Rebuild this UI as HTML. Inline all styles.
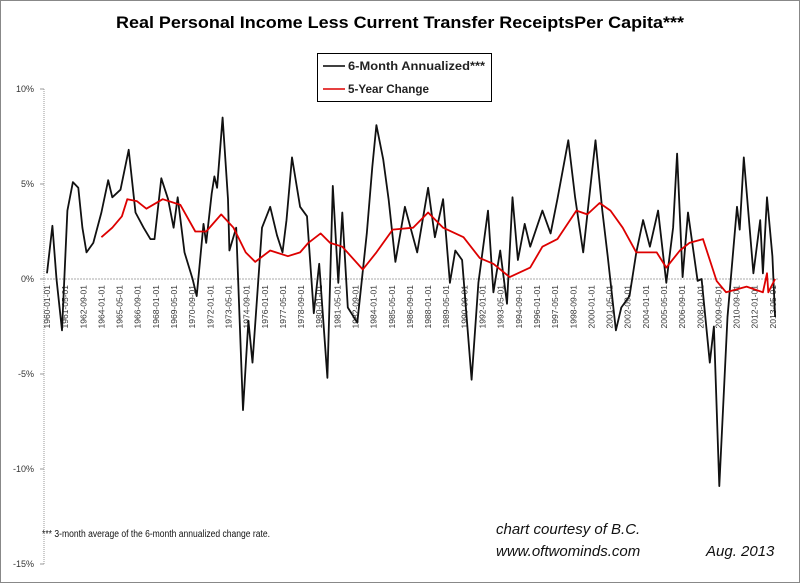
<!DOCTYPE html>
<html><head><meta charset="utf-8"><style>
html,body{margin:0;padding:0;background:#fff}
svg{display:block;font-family:"Liberation Sans",sans-serif}
</style></head><body>
<svg id="chart" width="800" height="583" viewBox="0 0 800 583">
<rect x="0.5" y="0.5" width="799" height="582" fill="#fff" stroke="#888"/>
<text x="400" y="28" text-anchor="middle" font-size="17" font-weight="bold" textLength="568" lengthAdjust="spacingAndGlyphs">Real Personal Income Less Current Transfer ReceiptsPer Capita***</text>
<g>
<rect x="317.5" y="53.5" width="174" height="48" fill="#fff" stroke="#000"/>
<g><line x1="323" y1="66" x2="345" y2="66" stroke="#000" stroke-width="1.5"/><text x="348" y="70" font-size="11.5" font-weight="bold" fill="#222" textLength="137" lengthAdjust="spacingAndGlyphs">6-Month Annualized***</text></g>
<g><line x1="323" y1="89" x2="345" y2="89" stroke="#d00" stroke-width="1.5"/><text x="348" y="93" font-size="11.5" font-weight="bold" fill="#222" textLength="81" lengthAdjust="spacingAndGlyphs">5-Year Change</text></g>
</g>
<g id="axes"></g>
<g id="series"></g>
<text x="42" y="537" font-size="10" fill="#111" textLength="228" lengthAdjust="spacingAndGlyphs">*** 3-month average of the 6-month annualized change rate.</text>
<text x="496" y="534" font-size="15" font-style="italic" fill="#111">chart courtesy of B.C.</text>
<text x="496" y="556" font-size="15" font-style="italic" fill="#111">www.oftwominds.com</text>
<text x="706" y="556" font-size="15" font-style="italic" fill="#111">Aug. 2013</text>
</svg>
<script>
const yTicks = [10, 5, 0, -5, -10, -15];
const xLabelStart = 1960; // labels every 16 months from 1960-01
const xLabelCount = 41;
const blackYears = [1960.0,1960.4,1960.7,1961.1,1961.5,1961.9,1962.3,1962.6,1962.9,1963.4,1964.0,1964.5,1964.8,1965.4,1966.0,1966.5,1967.1,1967.6,1967.9,1968.4,1968.9,1969.3,1969.6,1970.1,1970.7,1971.0,1971.5,1971.7,1972.1,1972.3,1972.5,1972.9,1973.3,1973.4,1973.9,1974.4,1974.8,1975.1,1975.8,1976.4,1976.9,1977.3,1977.6,1978.0,1978.6,1979.1,1979.6,1980.0,1980.6,1981.0,1981.4,1981.7,1982.1,1982.8,1983.5,1983.9,1984.2,1984.7,1985.1,1985.6,1986.3,1987.2,1988.0,1988.5,1989.1,1989.6,1990.0,1990.5,1991.2,1991.7,1992.4,1992.8,1993.3,1993.8,1994.2,1994.6,1995.1,1995.5,1996.4,1997.0,1997.5,1998.3,1998.8,1999.4,2000.3,2000.8,2001.2,2001.8,2002.2,2002.8,2003.3,2003.8,2004.3,2004.9,2005.5,2006.0,2006.3,2006.7,2007.1,2007.8,2008.1,2008.7,2009.0,2009.4,2010.0,2010.7,2010.9,2011.2,2011.9,2012.4,2012.6,2012.9,2013.3,2013.5];
const blackValues = [0.3,2.8,0,-2.7,3.6,5.1,4.8,2.7,1.4,1.9,3.5,5.2,4.3,4.7,6.8,3.5,2.7,2.1,2.1,5.3,4.2,2.7,4.3,1.4,0,-0.9,2.9,1.9,4.5,5.4,4.8,8.5,4.2,1.5,2.7,-6.9,-2.2,-4.4,2.7,3.8,2.3,1.4,3.1,6.4,3.8,3.3,-1.8,0.8,-5.2,4.9,-0.2,3.5,-1.5,-2.3,2.4,5.9,8.1,6.3,4.2,0.9,3.8,1.4,4.8,2.2,4.2,-0.2,1.5,1.0,-5.3,-0.2,3.6,-0.7,1.5,-1.3,4.3,1.0,2.9,1.7,3.6,2.4,4.2,7.3,4.3,1.4,7.3,3.6,1.2,-2.7,-1.5,-0.9,1.4,3.1,1.7,3.6,-0.2,2.7,6.6,0.1,3.5,-0.1,0,-4.4,-2.5,-10.9,-2.0,3.8,2.6,6.4,0.3,3.1,0.3,4.3,1.2,-2.0];
const redYears = [1964.0,1964.8,1965.5,1965.9,1966.6,1967.3,1968.5,1969.8,1970.9,1971.7,1972.8,1973.7,1974.6,1975.3,1976.4,1977.7,1978.6,1979.2,1980.1,1980.8,1981.7,1983.2,1984.2,1985.4,1986.9,1988.0,1989.1,1990.6,1991.8,1992.8,1994.0,1995.5,1996.4,1997.5,1998.9,1999.7,2000.6,2001.4,2002.3,2003.3,2004.8,2005.5,2006.5,2007.2,2008.2,2009.2,2009.9,2011.4,2012.6,2012.9,2013.0,2013.5];
const redValues = [2.2,2.7,3.3,4.2,4.1,3.7,4.2,3.9,2.5,2.5,3.4,2.7,1.4,0.9,1.5,1.2,1.4,1.9,2.4,1.9,1.7,0.5,1.4,2.6,2.7,3.5,2.7,2.2,1.1,0.8,0.1,0.6,1.7,2.1,3.6,3.4,4.0,3.6,2.7,1.4,1.4,0.6,1.5,1.9,2.1,-0.1,-0.7,-0.4,-0.7,0.3,-0.7,0];

const NS='http://www.w3.org/2000/svg';
const X0=47, PXY=13.61, Y0=279, PPC=19;
function xScale(yr){return X0+(yr-1960)*PXY;}
function yScale(v){return Y0-v*PPC;}
function mk(tag,attrs,parent){const e=document.createElementNS(NS,tag);for(const k in attrs)e.setAttribute(k,attrs[k]);parent.appendChild(e);return e;}
const axes=document.getElementById('axes');
const yAxis=mk('line',{x1:44,y1:yScale(10),x2:44,y2:yScale(-15),stroke:'#999','stroke-dasharray':'1,1'},axes);


yTicks.forEach(t=>{
  const tk=mk('line',{x1:40,y1:yScale(t),x2:44,y2:yScale(t),stroke:'#999'},axes);
  
  
  const lb=mk('text',{x:34,y:yScale(t)+3,'font-size':9,'text-anchor':'end',fill:'#333'},axes);
  lb.textContent=t+'%';
  
  
});
const zl=mk('line',{x1:44,y1:Y0,x2:778,y2:Y0,stroke:'#aaa','stroke-dasharray':'2,1'},axes);


for(let i=0;i<xLabelCount;i++){
  const m=i*16, yr=xLabelStart+Math.floor(m/12), mo=m%12+1;
  const x=xScale(xLabelStart+m/12);
  const lb=mk('text',{x:0,y:0,'font-size':8.5,'text-anchor':'end',fill:'#333',transform:'translate('+(x+3)+',285) rotate(-90)'},axes);
  lb.textContent=yr+'-'+(mo<10?'0':'')+mo+'-01';
  
  
}
const ser=document.getElementById('series');
function path(ys,vs,color,name){
  let d='';ys.forEach((y,i)=>{d+=(i?'L':'M')+xScale(y).toFixed(1)+','+yScale(vs[i]).toFixed(1);});
  const p=mk('path',{d:d,fill:'none',stroke:color,'stroke-width':1.8,'stroke-linejoin':'round'},ser);
  
  
}
path(blackYears,blackValues,'#111','series-6-month-annualized');
path(redYears,redValues,'#d00','series-5-year-change');
</script>
</body></html>
